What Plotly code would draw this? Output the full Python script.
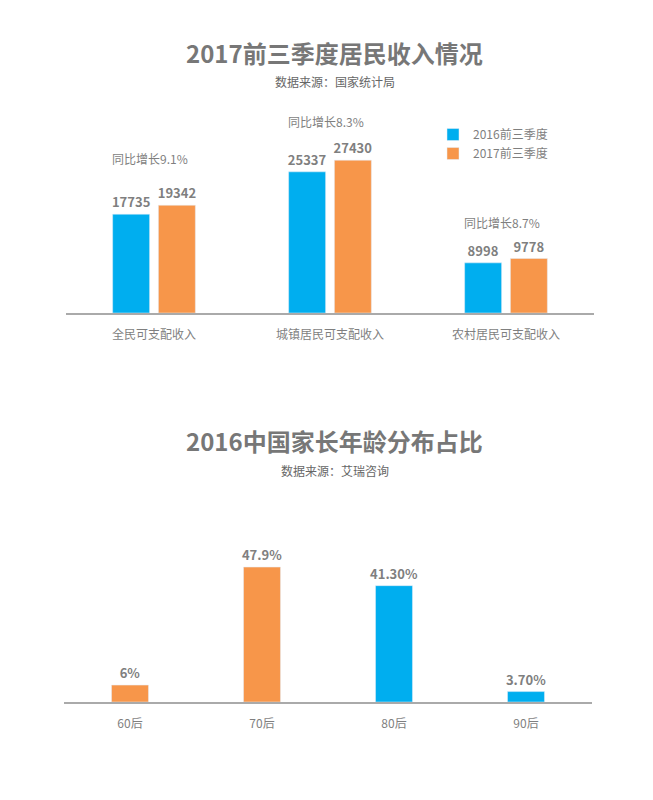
import plotly.graph_objects as go

cats1 = ["全民可支配收入", "城镇居民可支配收入", "农村居民可支配收入"]
v2016 = [17735, 25337, 8998]
v2017 = [19342, 27430, 9778]
growth = ["同比增长9.1%", "同比增长8.3%", "同比增长8.7%"]

cats2 = ["60后", "70后", "80后", "90后"]
share = [6, 47.9, 41.3, 3.7]
share_lbl = ["6%", "47.9%", "41.30%", "3.70%"]

BLUE = "#00AEEF"
ORANGE = "#F7964A"
GRAY = "#7f7f7f"
FONT = "Noto Sans CJK SC"
S = 8  # page margin offset
W, H = 653, 800

def px(v):
    return (v - S) / W

def py(v):
    return 1 - (v - S) / H

tf = dict(color=GRAY, size=13, family=FONT, weight="bold")
fig = go.Figure()
fig.add_bar(x=cats1, y=v2016, name="2016前三季度", marker_color=BLUE, width=0.21, offset=-0.235,
            text=v2016, textposition="outside", textfont=tf, constraintext="none",
            cliponaxis=False, xaxis="x", yaxis="y")
fig.add_bar(x=cats1, y=v2017, name="2017前三季度", marker_color=ORANGE, width=0.21, offset=0.025,
            text=v2017, textposition="outside", textfont=tf, constraintext="none",
            cliponaxis=False, xaxis="x", yaxis="y")
fig.add_bar(x=cats2, y=share, marker_color=[ORANGE, ORANGE, BLUE, BLUE], width=0.28, offset=-0.14,
            text=share_lbl, textposition="outside", textfont=tf, constraintext="none",
            cliponaxis=False, showlegend=False, xaxis="x2", yaxis="y2")

ann = []
gy = [158, 122, 222]
for c, g, y in zip(cats1, growth, gy):
    ann.append(dict(x=c, y=py(y), xref="x", yref="paper", yanchor="middle", text=g, showarrow=False,
                    font=dict(size=12, color=GRAY), xshift=-4))
for t, y, s in [("<b>2017前三季度居民收入情况</b>", 52, 24), ("数据来源：国家统计局", 81, 12),
                ("<b>2016中国家长年龄分布占比</b>", 440, 24), ("数据来源：艾瑞咨询", 470, 12)]:
    ann.append(dict(x=0.5, y=py(y), xref="paper", yref="paper", yanchor="middle", text=t, showarrow=False,
                    font=dict(size=s, color="#777777" if s > 12 else "#666666")))

axcommon = dict(showgrid=False, zeroline=False, showticklabels=False, fixedrange=True)
fig.update_layout(
    width=W, height=H, margin=dict(l=0, r=0, t=0, b=0),
    paper_bgcolor="white", plot_bgcolor="white",
    font=dict(family=FONT, color=GRAY, size=12),
    barmode="overlay",
    xaxis=dict(domain=[px(66), px(594)], anchor="y", showline=True, linecolor="#aaaaaa", linewidth=2,
               ticks="", ticklabelstandoff=10, tickfont=dict(size=12, color=GRAY)),
    yaxis=dict(domain=[py(313), py(118)], range=[0, 35000], anchor="x", **axcommon),
    xaxis2=dict(domain=[px(64), px(592)], anchor="y2", showline=True, linecolor="#aaaaaa", linewidth=2,
                ticks="", ticklabelstandoff=10, tickfont=dict(size=12, color=GRAY)),
    yaxis2=dict(domain=[py(702), py(533)], range=[0, 60], anchor="x2", **axcommon),
    legend=dict(x=px(433), y=py(120), xanchor="left", yanchor="top", font=dict(size=12, color=GRAY),
                itemwidth=30, tracegroupgap=0, bgcolor="rgba(0,0,0,0)"),
    annotations=ann,
)
fig.write_html("out.html")
